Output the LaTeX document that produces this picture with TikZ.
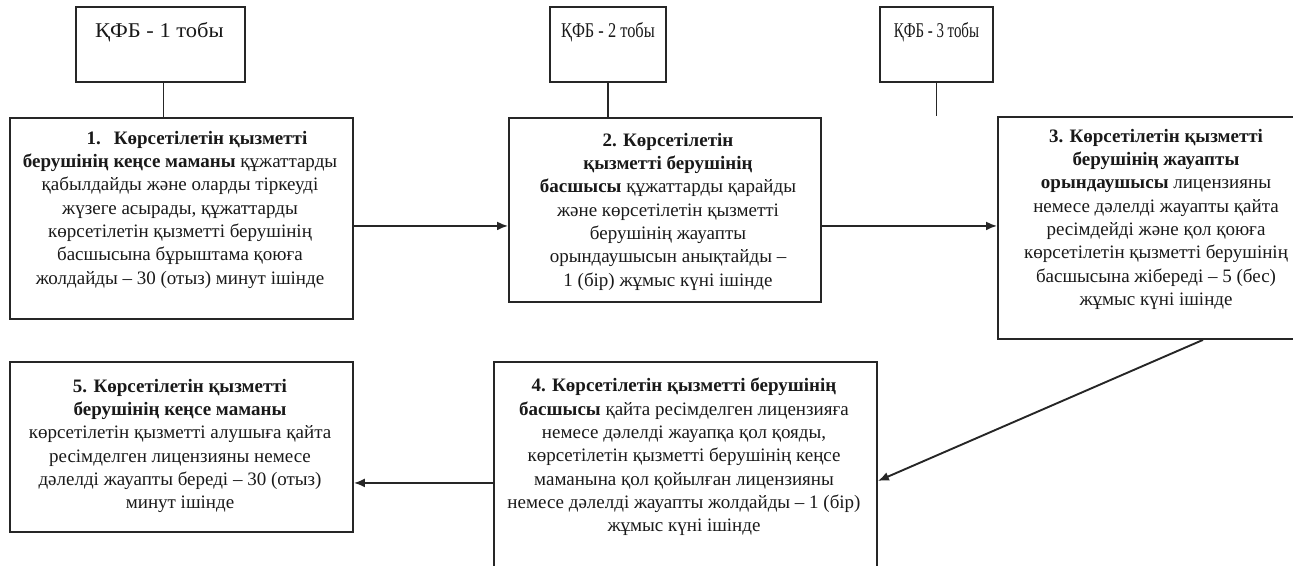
\documentclass[tikz,border=0pt]{standalone}
\usepackage{fontspec}
\usepackage{graphicx}
\setmainfont{Liberation Serif}
\usetikzlibrary{arrows.meta}
\begin{document}
\begin{tikzpicture}[x=1pt,y=-1pt,
  frame/.style={draw=black!85, line width=1.9pt, inner sep=0pt, anchor=north west},
  body/.style={align=center, inner sep=0pt, anchor=north, text=black!90,
    font=\fontsize{19}{23.3}\selectfont},
  head/.style={inner sep=0pt, anchor=base, text=black!90, font=\fontsize{21}{24}\selectfont},
  link/.style={draw=black!85, line width=1.9pt},
  arr/.style={link, -{Latex[length=11pt,width=9pt]}}]
\useasboundingbox (0,0) rectangle (1293,565);
\clip (0,0) rectangle (1293,565);

% group boxes
\node[frame, minimum width=169pt, minimum height=75pt] (g1) at (75,6) {};
\node[frame, minimum width=116pt, minimum height=75pt] (g2) at (549,6) {};
\node[frame, minimum width=113pt, minimum height=75pt] (g3) at (879,6) {};
\node[head] (h1) at ([xshift=-1pt]g1.center |- 0,37) {\scalebox{1.07}[1]{ҚФБ - 1 тобы}};
\node[head] (h2) at (g2.center |- 0,37) {\scalebox{0.78}[1]{ҚФБ - 2 тобы}};
\node[head] (h3) at (g3.center |- 0,37) {\scalebox{0.71}[1]{ҚФБ - 3 тобы}};

% step boxes
\node[frame, minimum width=343pt, minimum height=201pt] (b1) at (9,117) {};
\node[frame, minimum width=312pt, minimum height=184pt] (b2) at (508,117) {};
\node[frame, minimum width=320pt, minimum height=222pt] (b3) at (997,116) {};
\node[frame, minimum width=383pt, minimum height=230pt] (b4) at (493,361) {};
\node[frame, minimum width=343pt, minimum height=170pt] (b5) at (9,361) {};

\node[body] (t1) at (180,131) {\hspace*{34pt}\textbf{1.\hspace{13pt}Көрсетілетін қызметті}\\
  \textbf{берушінің кеңсе маманы} құжаттарды\\
  қабылдайды және оларды тіркеуді\\
  жүзеге асырады, құжаттарды\\
  көрсетілетін қызметті берушінің\\
  басшысына бұрыштама қоюға\\
  жолдайды – 30 (отыз) минут ішінде};
\node[body] (t2) at (668,133) {\textbf{2. Көрсетілетін}\\
  \textbf{қызметті берушінің}\\
  \textbf{басшысы} құжаттарды қарайды\\
  және көрсетілетін қызметті\\
  берушінің жауапты\\
  орындаушысын анықтайды –\\
  1 (бір) жұмыс күні ішінде};
\node[body] (t3) at (1156,129) {\textbf{3. Көрсетілетін қызметті}\\
  \textbf{берушінің жауапты}\\
  \textbf{орындаушысы} лицензияны\\
  немесе дәлелді жауапты қайта\\
  ресімдейді және қол қоюға\\
  көрсетілетін қызметті берушінің\\
  басшысына жібереді – 5 (бес)\\
  жұмыс күні ішінде};
\node[body] (t4) at (684,378) {\textbf{4. Көрсетілетін қызметті берушінің}\\
  \textbf{басшысы} қайта ресімделген лицензияға\\
  немесе дәлелді жауапқа қол қояды,\\
  көрсетілетін қызметті берушінің кеңсе\\
  маманына қол қойылған лицензияны\\
  немесе дәлелді жауапты жолдайды – 1 (бір)\\
  жұмыс күні ішінде};
\node[body] (t5) at (180,379) {\textbf{5. Көрсетілетін қызметті}\\
  \textbf{берушінің кеңсе маманы}\\
  көрсетілетін қызметті алушыға қайта\\
  ресімделген лицензияны немесе\\
  дәлелді жауапты береді – 30 (отыз)\\
  минут ішінде};

% connectors
\draw[link] ([xshift=3pt]g1.south) -- ([xshift=3pt]g1.south |- b1.north);
\draw[link] (g2.south) -- (g2.south |- b2.north);
\draw[link] (g3.south) -- (g3.south |- b3.north);
\draw[arr] ([yshift=-7.5pt]b1.east) -- ([yshift=-7.5pt]b1.east -| b2.west);
\draw[arr] ([yshift=-16pt]b2.east) -- ([yshift=-16pt]b2.east -| b3.west);
\draw[arr] ([xshift=45pt]b3.south) -- ([yshift=-4pt]b4.east);
\draw[arr] ([yshift=-6pt]b4.west) -- ([yshift=-6pt]b4.west -| b5.east);
\end{tikzpicture}
\end{document}
